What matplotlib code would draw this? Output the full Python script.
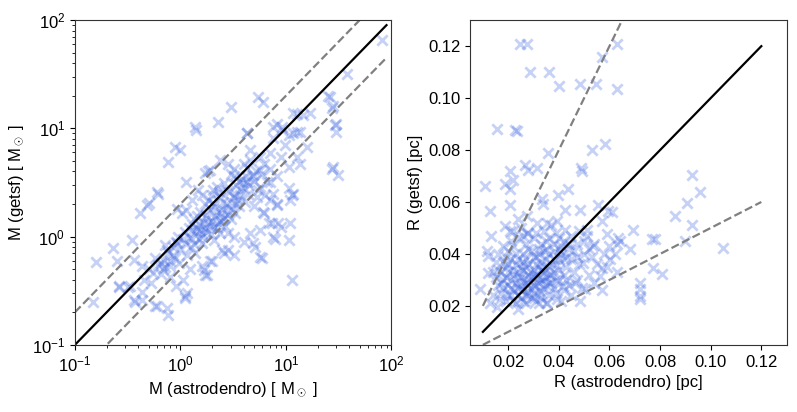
import numpy as np
import matplotlib
matplotlib.use('Agg')
import matplotlib.pyplot as plt

plt.rcParams['font.family'] = ['Liberation Sans', 'DejaVu Sans']
plt.rcParams['mathtext.fontset'] = 'custom'
plt.rcParams['mathtext.rm'] = 'Liberation Sans'
plt.rcParams['mathtext.it'] = 'Liberation Sans:italic'

# Mass comparison: (astrodendro, getsf) in Msun
mass_pairs = [
    (82, 65), (38, 32), (25, 20), (28, 16), (29.5, 10.7), (30, 9.2), (28, 4.4), (31, 3.7),
    (5.5, 19.5), (6.1, 17.5), (3.0, 15.9), (2.28, 11.4), (1.38, 10.3), (0.89, 6.7), (1.0, 6.3),
    (0.76, 4.9), (0.6, 2.6), (14.6, 13.2), (17, 13.9), (11.8, 13.9), (7.6, 10.3), (11.8, 9.0),
    (13.7, 9.2), (9.1, 9.7), (15.8, 6.7), (4.28, 9.0),
    (0.16, 0.58), (0.23, 0.78), (0.35, 0.93), (0.41, 1.66), (0.5, 2.03), (0.62, 2.5), (0.15, 0.25),
    (0.26, 0.35), (0.33, 0.35), (0.37, 0.25), (0.57, 0.23), (0.74, 0.22), (0.77, 0.19), (1.11, 0.28),
    (1.15, 0.3), (11.4, 0.4), (7.6, 1.0), (10.6, 0.93), (5.7, 0.65), (4.0, 0.9), (5.1, 0.8),
    (3.2, 0.68), (2.6, 0.71), (2.0, 0.59), (1.66, 0.49), (1.7, 0.44), (11, 2.2), (11.4, 2.4),
    (8.2, 2.0), (8.5, 1.33), (6.1, 1.7), (6.9, 1.33), (11, 1.33),
    (0.25, 0.59), (0.36, 0.61), (0.43, 0.53), (0.55, 0.46), (0.53, 0.37), (0.43, 0.31), (0.26, 0.34),
    (0.32, 0.34), (0.36, 0.26), (0.43, 0.26), (0.6, 0.23), (1.1, 0.27), (1.07, 0.4), (0.8, 0.53),
    (0.66, 0.57), (0.57, 0.63), (0.77, 0.7), (0.89, 0.63), (0.96, 0.57), (1.23, 0.5), (1.38, 0.7),
    (1.6, 0.53), (1.78, 0.44), (1.1, 0.87), (0.92, 0.87), (0.71, 0.84), (1.28, 1.15), (1.6, 1.07),
    (1.84, 1.33), (2.1, 1.23), (2.46, 1.43), (2.85, 1.07), (2.85, 0.75), (2.46, 0.75), (1.6, 0.87),
    (2.1, 0.93), (0.48, 1.95), (1.03, 1.66), (0.92, 1.8),
    (4.3, 9.1), (1.4, 9.6), (8.2, 11.1), (12.7, 13.7), (26.5, 19.6), (27.5, 15.3), (29.6, 11.1),
    (27.5, 4.2), (9.2, 10.3), (12.7, 9.3), (10.6, 8.7), (9.8, 7.0), (7.1, 5.9), (8.9, 5.5),
    (12.7, 5.5), (13.6, 4.7), (10.6, 4.4), (4.6, 5.1), (4.0, 4.7), (6.2, 4.7), (7.1, 4.2),
    (5.7, 4.1), (4.9, 3.7), (8.2, 3.6), (10.6, 2.8), (11.8, 2.5), (7.1, 3.2), (5.7, 2.9),
    (4.3, 3.2), (3.2, 3.6), (3.2, 4.2), (2.4, 5.1), (1.9, 4.1), (1.7, 3.9), (2.05, 2.7),
    (2.75, 2.7), (3.7, 2.4), (5.3, 2.3), (7.6, 2.5), (4.6, 6.3), (5.7, 5.5), (7.6, 8.1),
    (8.2, 1.95), (7.9, 0.96), (5.9, 0.63), (4.9, 0.87), (1.9, 0.59), (7.4, 1.33), (8.9, 1.23),
    (5.7, 1.15), (4.6, 1.07), (3.2, 1.0), (2.4, 1.07), (6.2, 1.66), (7.1, 2.2),
    (1.2, 1.0), (1.4, 1.1), (1.5, 1.3), (1.7, 1.2), (1.8, 1.5), (2.0, 1.4), (2.2, 1.7), (2.5, 1.8),
    (2.7, 2.0), (3.0, 2.1), (3.3, 2.5), (3.5, 2.2), (4.0, 2.8), (4.5, 3.0), (2.1, 1.9), (1.9, 1.8),
    (2.4, 2.3), (2.6, 1.5), (1.6, 1.0), (3.8, 3.4), (4.2, 3.6), (2.9, 2.6), (1.3, 1.3), (1.5, 0.95),
    (1.75, 1.1), (2.2, 1.2), (2.8, 1.6), (3.1, 1.8), (3.6, 1.9), (4.1, 2.1), (2.3, 2.6), (1.85, 2.2),
    (1.45, 1.55), (1.1, 1.1), (0.95, 1.0), (0.85, 0.8), (1.0, 0.75), (1.25, 0.8), (3.4, 3.0),
    (5.0, 3.3), (6.0, 3.8), (5.4, 2.7), (2.6, 3.1), (3.0, 3.8), (1.55, 1.7), (2.05, 2.05),
    (0.7, 0.6), (0.65, 0.45), (0.8, 0.42), (0.9, 0.35), (0.68, 0.5), (0.5, 0.5), (0.45, 0.4),
    (1.14, 3.2), (1.84, 4.0), (2.85, 4.7), (1.48, 2.7), (1.14, 1.75), (1.3, 2.2), (1.6, 2.4),
    (1.3, 0.95), (1.45, 1.2), (1.65, 1.35), (1.9, 1.25), (2.15, 1.55), (2.35, 1.4), (2.55, 2.1),
    (2.75, 1.75), (3.2, 2.3), (3.4, 2.0), (3.7, 2.7), (4.4, 2.5), (4.8, 3.6), (3.9, 3.1),
    (1.35, 1.45), (1.55, 1.15), (1.75, 1.6), (1.95, 1.05), (2.25, 1.35), (2.45, 1.65), (2.65, 1.25),
    (3.05, 1.45), (3.3, 1.65), (1.2, 1.2), (1.05, 0.95), (0.9, 0.9), (0.75, 0.75), (0.8, 0.6),
    (0.72, 0.52), (0.62, 0.55), (0.85, 0.68), (1.15, 0.68), (1.35, 0.85), (2.0, 2.4), (2.2, 2.9),
    (1.7, 2.0), (3.6, 3.3), (4.3, 4.3), (5.2, 4.0), (6.6, 3.2), (6.3, 2.4), (5.0, 1.9),
]

# Radius comparison: (astrodendro, getsf) in pc
radius_pairs = [
    (0.0246, 0.121), (0.0273, 0.121), (0.0286, 0.110), (0.0361, 0.110), (0.0401, 0.1047),
    (0.0484, 0.1053), (0.0547, 0.1053), (0.057, 0.116), (0.0629, 0.121), (0.0629, 0.1034),
    (0.0154, 0.088), (0.0233, 0.0874), (0.0226, 0.0878), (0.0358, 0.079), (0.053, 0.080),
    (0.0583, 0.0824), (0.0488, 0.073), (0.0492, 0.0718), (0.0266, 0.0744), (0.028, 0.0722),
    (0.0312, 0.073), (0.0207, 0.0718), (0.022, 0.0686), (0.0187, 0.067), (0.0108, 0.066),
    (0.0207, 0.065), (0.0398, 0.0628), (0.0437, 0.065), (0.0926, 0.0705), (0.0959, 0.064),
    (0.0128, 0.0564), (0.0207, 0.059), (0.0332, 0.061), (0.0338, 0.0594), (0.0424, 0.0571),
    (0.0484, 0.0571), (0.0556, 0.059), (0.0596, 0.0564), (0.061, 0.056), (0.057, 0.0526),
    (0.0695, 0.0494), (0.086, 0.0545), (0.0906, 0.0597), (0.0926, 0.0513), (0.0899, 0.045),
    (0.105, 0.0424), (0.0768, 0.0456), (0.078, 0.0456), (0.0774, 0.0347), (0.0807, 0.0322),
    (0.0721, 0.029), (0.0721, 0.0264), (0.0721, 0.0238), (0.0721, 0.0228), (0.0682, 0.0418),
    (0.0635, 0.0462), (0.0629, 0.044), (0.0589, 0.0475), (0.0602, 0.0379), (0.057, 0.0347),
    (0.0563, 0.0315), (0.0484, 0.0219), (0.0504, 0.0264), (0.0536, 0.043), (0.051, 0.0494),
    (0.0497, 0.0366), (0.0464, 0.029), (0.0418, 0.0277), (0.0391, 0.0226), (0.0352, 0.0213),
    (0.032, 0.021), (0.024, 0.0188), (0.0154, 0.0194), (0.0167, 0.0226), (0.0088, 0.0264),
    (0.0121, 0.0328), (0.0121, 0.0392), (0.0115, 0.041), (0.0134, 0.0468), (0.0187, 0.0507),
    (0.0207, 0.0488), (0.024, 0.0533), (0.0273, 0.0545), (0.0312, 0.052), (0.0352, 0.052),
    (0.0391, 0.0526), (0.0424, 0.0494), (0.0273, 0.0481),
    (0.018, 0.030), (0.020, 0.028), (0.022, 0.032), (0.024, 0.027), (0.026, 0.030), (0.028, 0.025),
    (0.030, 0.028), (0.032, 0.026), (0.034, 0.030), (0.036, 0.024), (0.025, 0.035), (0.027, 0.038),
    (0.029, 0.033), (0.031, 0.036), (0.033, 0.034), (0.035, 0.038), (0.037, 0.032), (0.039, 0.036),
    (0.041, 0.040), (0.043, 0.035), (0.045, 0.038), (0.019, 0.035), (0.021, 0.038), (0.023, 0.040),
    (0.017, 0.025), (0.019, 0.022), (0.021, 0.024), (0.023, 0.021), (0.025, 0.023), (0.027, 0.021),
    (0.029, 0.023), (0.031, 0.022), (0.033, 0.025), (0.035, 0.028), (0.038, 0.027), (0.040, 0.030),
    (0.042, 0.032), (0.044, 0.028), (0.046, 0.033), (0.048, 0.036), (0.050, 0.040), (0.052, 0.042),
    (0.047, 0.044), (0.045, 0.047), (0.042, 0.045), (0.039, 0.048), (0.036, 0.046), (0.033, 0.044),
    (0.030, 0.046), (0.027, 0.044), (0.024, 0.046), (0.021, 0.045), (0.018, 0.043), (0.016, 0.040),
    (0.015, 0.037), (0.014, 0.033), (0.016, 0.028), (0.014, 0.024), (0.013, 0.021), (0.026, 0.040),
    (0.029, 0.041), (0.032, 0.040), (0.035, 0.042), (0.038, 0.041), (0.041, 0.043), (0.044, 0.042),
    (0.028, 0.048), (0.025, 0.050), (0.022, 0.049), (0.034, 0.049), (0.037, 0.051), (0.040, 0.046),
    (0.050, 0.045), (0.053, 0.039), (0.055, 0.036), (0.058, 0.040), (0.047, 0.030), (0.049, 0.027),
    (0.052, 0.032), (0.054, 0.029), (0.057, 0.026), (0.020, 0.033), (0.022, 0.026), (0.024, 0.031),
    (0.026, 0.026), (0.028, 0.032), (0.030, 0.031), (0.032, 0.029), (0.034, 0.027), (0.036, 0.035),
    (0.038, 0.038), (0.040, 0.034), (0.043, 0.039), (0.017, 0.033), (0.019, 0.039), (0.023, 0.036),
    (0.027, 0.035), (0.031, 0.039), (0.033, 0.037), (0.029, 0.027), (0.025, 0.028), (0.021, 0.030),
    (0.037, 0.029), (0.039, 0.025), (0.042, 0.026), (0.045, 0.024), (0.041, 0.022), (0.035, 0.021),
    (0.046, 0.041), (0.048, 0.049), (0.051, 0.047), (0.054, 0.044), (0.060, 0.043), (0.062, 0.040),
    (0.064, 0.045), (0.059, 0.035), (0.063, 0.033),
    (0.019, 0.031), (0.020, 0.036), (0.021, 0.027), (0.022, 0.034), (0.023, 0.029), (0.024, 0.033),
    (0.025, 0.026), (0.025, 0.031), (0.026, 0.034), (0.027, 0.029), (0.027, 0.024), (0.028, 0.030),
    (0.028, 0.036), (0.029, 0.031), (0.030, 0.025), (0.030, 0.034), (0.031, 0.028), (0.031, 0.032),
    (0.032, 0.035), (0.033, 0.030), (0.033, 0.023), (0.034, 0.033), (0.035, 0.031), (0.036, 0.029),
    (0.037, 0.036), (0.038, 0.033), (0.039, 0.030), (0.040, 0.038), (0.018, 0.027), (0.018, 0.037),
    (0.020, 0.041), (0.022, 0.043), (0.024, 0.038), (0.026, 0.037), (0.028, 0.042), (0.030, 0.039),
    (0.032, 0.042), (0.034, 0.041), (0.036, 0.040), (0.038, 0.044), (0.040, 0.042), (0.042, 0.038),
    (0.044, 0.044), (0.026, 0.047), (0.031, 0.048), (0.035, 0.045), (0.017, 0.029), (0.016, 0.034),
    (0.015, 0.031), (0.020, 0.024), (0.022, 0.022), (0.024, 0.024), (0.026, 0.022), (0.028, 0.027),
    (0.030, 0.023), (0.032, 0.031), (0.034, 0.035), (0.036, 0.032), (0.043, 0.030), (0.047, 0.039),
]

m_astro = np.array([p[0] for p in mass_pairs])
m_getsf = np.array([p[1] for p in mass_pairs])
r_astro = np.array([p[0] for p in radius_pairs])
r_getsf = np.array([p[1] for p in radius_pairs])

m_line = np.array([0.1, 90.0])
r_line = np.array([0.01, 0.12])

point_color = 'royalblue'

fig = plt.figure(figsize=(7.97, 4.12), dpi=100)
ax1 = fig.add_axes([0.094, 0.163, 0.397, 0.788])
ax2 = fig.add_axes([0.590, 0.163, 0.397, 0.788])

# left panel: mass
ax1.scatter(m_astro, m_getsf, marker='x', s=55, linewidths=2, color=point_color, alpha=0.3)
ax1.plot(m_line, m_line, color='black', lw=1.6)
ax1.plot(m_line, 2 * m_line, color='gray', lw=1.6, ls='--')
ax1.plot(m_line, 0.5 * m_line, color='gray', lw=1.6, ls='--')
ax1.set_xscale('log')
ax1.set_yscale('log')
ax1.set_xlim(0.1, 100)
ax1.set_ylim(0.1, 100)
ax1.set_xlabel(r'M (astrodendro) [ M$_\odot$ ]', fontsize=12)
ax1.set_ylabel(r'M (getsf) [ M$_\odot$ ]', fontsize=12)

# right panel: radius
ax2.scatter(r_astro, r_getsf, marker='x', s=55, linewidths=2, color=point_color, alpha=0.3)
ax2.plot(r_line, r_line, color='black', lw=1.6)
ax2.plot(r_line, 2 * r_line, color='gray', lw=1.6, ls='--')
ax2.plot(r_line, 0.5 * r_line, color='gray', lw=1.6, ls='--')
ax2.set_xlim(0.005, 0.13)
ax2.set_ylim(0.005, 0.13)
ax2.set_xticks([0.02, 0.04, 0.06, 0.08, 0.10, 0.12])
ax2.set_yticks([0.02, 0.04, 0.06, 0.08, 0.10, 0.12])
ax2.set_xlabel('R (astrodendro) [pc]', fontsize=12)
ax2.set_ylabel('R (getsf) [pc]', fontsize=12)

for ax in (ax1, ax2):
    ax.tick_params(labelsize=12)
    for s in ax.spines.values():
        s.set_color('#333333')

fig.savefig('out.png', dpi=100)
